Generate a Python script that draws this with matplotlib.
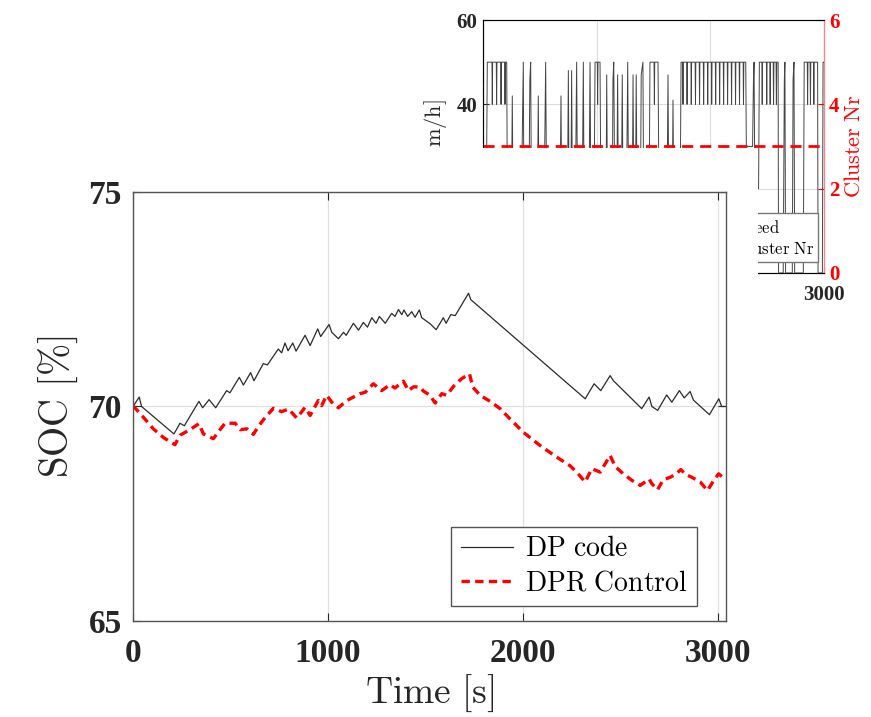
import numpy as np
import matplotlib
matplotlib.use("Agg")
import matplotlib.pyplot as plt
from matplotlib.patches import Rectangle

plt.rcParams['font.family'] = ['Liberation Serif', 'DejaVu Serif']
plt.rcParams['font.weight'] = 'bold'
plt.rcParams['mathtext.fontset'] = 'cm'

# --- main plot data: SOC over time ---
dp_t = [0, 32, 44, 210, 241, 263, 338, 357, 390, 424, 480, 497, 545, 566, 603, 620,
        668, 689, 745, 762, 779, 795, 819, 836, 882, 908, 947, 962, 1005, 1019, 1053,
        1079, 1093, 1130, 1156, 1181, 1202, 1224, 1246, 1263, 1293, 1326, 1343, 1361,
        1378, 1389, 1408, 1429, 1446, 1468, 1480, 1523, 1554, 1591, 1605, 1629, 1652,
        1720, 1732, 2318, 2364, 2398, 2446, 2463, 2608, 2646, 2660, 2690, 2736, 2762,
        2801, 2826, 2856, 2873, 2955, 3003, 3018, 3040]
dp_soc = [70.0, 70.22, 70.0, 69.36, 69.61, 69.55, 70.12, 69.97, 70.16, 69.97, 70.37,
          70.32, 70.68, 70.5, 70.79, 70.6, 71.0, 70.97, 71.34, 71.25, 71.48, 71.3,
          71.48, 71.29, 71.66, 71.42, 71.81, 71.63, 71.91, 71.73, 71.58, 71.73, 71.66,
          71.94, 71.78, 71.96, 71.85, 72.07, 71.94, 72.1, 71.94, 72.17, 72.1, 72.26,
          72.14, 72.25, 72.1, 72.21, 72.08, 72.25, 72.07, 71.93, 71.79, 72.07, 71.94,
          72.14, 72.12, 72.64, 72.49, 70.18, 70.53, 70.37, 70.72, 70.6, 69.95, 70.22,
          70.0, 69.91, 70.27, 70.1, 70.37, 70.2, 70.35, 70.15, 69.81, 70.18, 70.0, 70.0]

dpr_t = [0, 53, 104, 155, 215, 241, 292, 338, 361, 412, 446, 472, 524, 549, 584, 617,
         643, 677, 720, 762, 797, 840, 882, 908, 950, 967, 993, 1019, 1053, 1096, 1130,
         1164, 1190, 1232, 1275, 1318, 1343, 1386, 1412, 1438, 1472, 1489, 1523, 1549,
         1583, 1608, 1643, 1685, 1725, 1742, 1780, 1831, 1882, 1933, 2001, 2087, 2172,
         2240, 2275, 2318, 2352, 2395, 2446, 2472, 2514, 2557, 2600, 2646, 2660, 2689,
         2718, 2754, 2785, 2808, 2836, 2865, 2908, 2945, 2976, 3002, 3040]
dpr_soc = [70.02, 69.75, 69.48, 69.28, 69.11, 69.33, 69.46, 69.6, 69.36, 69.25, 69.46,
           69.61, 69.61, 69.46, 69.48, 69.35, 69.54, 69.74, 69.96, 69.88, 69.94, 69.73,
           69.98, 69.79, 70.14, 70.02, 70.26, 70.1, 69.97, 70.14, 70.22, 70.3, 70.33,
           70.53, 70.37, 70.51, 70.43, 70.59, 70.37, 70.46, 70.45, 70.36, 70.26, 70.08,
           70.3, 70.26, 70.47, 70.65, 70.76, 70.45, 70.26, 70.12, 69.95, 69.71, 69.4,
           69.09, 68.82, 68.62, 68.47, 68.24, 68.55, 68.47, 68.86, 68.6, 68.43, 68.28,
           68.16, 68.31, 68.2, 68.06, 68.29, 68.35, 68.43, 68.53, 68.41, 68.35, 68.24,
           68.04, 68.27, 68.43, 68.29]

# --- background plot data: speed and cluster number ---
speed_t = [0, 30, 38, 209, 214, 252, 258, 264, 340, 355, 360, 405, 413, 420, 426, 480,
           487, 493, 540, 552, 560, 680, 687, 693, 745, 752, 758, 775, 781, 787, 815,
           825, 832, 875, 884, 890, 935, 943, 950, 980, 987, 1031, 1038, 1085, 1090,
           1096, 1140, 1145, 1152, 1160, 1180, 1186, 1192, 1220, 1227, 1233, 1265, 1275,
           1282, 1316, 1322, 1328, 1344, 1350, 1356, 1388, 1394, 1409, 1415, 1465, 1471,
           1542, 1550, 1622, 1630, 1636, 1668, 1674, 1680, 1738, 1745, 2315, 2320, 2375,
           2383, 2388, 2395, 2428, 2435, 2600, 2604, 2645, 2655, 2660, 2666, 2725, 2732,
           2740, 2746, 2822, 2830, 2948, 2952, 2990, 2996, 3000]
speed_v = [20, 20, 50, 50, 20, 20, 42, 20, 20, 50, 20, 20, 46, 50, 20, 20,
           42, 20, 20, 50, 20, 20, 42, 20, 20, 48, 20, 20, 48, 20, 20,
           50, 20, 20, 50, 20, 20, 50, 20, 20, 50, 50, 20, 20, 47,
           20, 20, 46, 50, 20, 20, 47, 20, 20, 47, 20, 20, 50,
           20, 20, 47, 20, 20, 47, 20, 20, 47, 50, 20, 20, 50,
           50, 20, 20, 47, 20, 20, 41, 20, 20, 50, 50, 30, 30,
           46, 50, 20, 20, 50, 50, 0, 0, 46, 50, 0, 0, 46,
           50, 0, 0, 50, 50, 0, 0, 50, 50]
dip_t = [82, 120, 159, 194, 1010, 1510, 1762, 1798, 1835, 1872, 1908, 1944, 1980,
         2015, 2050, 2085, 2120, 2155, 2190, 2225, 2260, 2295, 2460, 2500, 2530,
         2560, 2585, 2860, 2885, 2915]
cluster_t = [0, 3000]
cluster_v = [3, 3]

pts = list(zip(speed_t, speed_v)) + [(d + s, v) for d in dip_t
                                      for s, v in ((-3, 50), (0, 40), (3, 50))]
pts.sort()
sp_t = [p[0] for p in pts]
sp_v = [p[1] for p in pts]

W, H = 871, 717
fig = plt.figure(figsize=(W / 100, H / 100), dpi=100)

def px_axes(l, t, r, b):
    return [l / W, 1 - b / H, (r - l) / W, (b - t) / H]

dark = '#262626'

# background (partially hidden) figure
axb = fig.add_axes(px_axes(483, 20, 823.5, 273))
axb.plot(sp_t, sp_v, color='#444444', lw=0.7, label=r'$\mathrm{Speed}$')
axb.set_xlim(0, 3000)
axb.set_ylim(0, 60)
axb.set_yticks([0, 20, 40, 60])
axb.set_xticks([0, 1000, 2000, 3000])
axb.grid(True, color='#dddddd', lw=0.8)
axb.tick_params(direction='in', labelsize=15, colors=dark, length=4, pad=4)
axb.tick_params(axis='x', pad=9)
axb.set_ylabel(r'$\mathrm{Speed\ [km/h]}$', fontsize=16, color=dark)
axb.yaxis.set_label_coords(-0.1, 0.43)
for s in axb.spines.values():
    s.set_color('#555555')
axr = axb.twinx()
axr.plot(cluster_t, cluster_v, color='red', lw=2, ls=(0, (4, 2.5)),
         label=r'$\mathrm{Cluster\ Nr}$')
axr.set_ylim(0, 6)
axr.set_yticks([0, 2, 4, 6])
axr.tick_params(direction='in', labelsize=15, colors='red', length=4, pad=4)
axr.spines['right'].set_color('#ff8080')
axr.set_ylabel(r'$\mathrm{Cluster\ Nr}$', fontsize=16, color='red', labelpad=4)
h1, l1 = axb.get_legend_handles_labels()
h2, l2 = axr.get_legend_handles_labels()
lgb = axr.legend(h1 + h2, l1 + l2, loc='lower right', bbox_to_anchor=(0.984, 0.043),
                 borderaxespad=0, fontsize=12, fancybox=False, framealpha=1,
                 edgecolor='#777777', handlelength=2.5, borderpad=0.25, labelspacing=0.2)

# white sheet of the overlaid figure
fig.patches.append(Rectangle((0, 0), 758 / W, 1 - 148 / H, transform=fig.transFigure,
                             facecolor='white', edgecolor='none', zorder=5))

# main SOC plot
ax = fig.add_axes(px_axes(133, 192, 726, 621))
ax.set_zorder(10)
ax.plot(dp_t, dp_soc, color='#2a2a2a', lw=0.9, label=r'$\mathrm{DP\ code}$')
ax.plot(dpr_t, dpr_soc, color='red', lw=2.4, ls=(0, (2.5, 1.6)),
        label=r'$\mathrm{DPR\ Control}$')
ax.set_xlim(0, 3040)
ax.set_ylim(65, 75)
ax.set_xticks([0, 1000, 2000, 3000])
ax.set_yticks([65, 70, 75])
ax.grid(True, color='#e0e0e0', lw=0.9)
ax.tick_params(direction='in', labelsize=24, colors=dark, length=6,
               top=True, right=True)
ax.tick_params(axis='x', pad=12)
ax.tick_params(axis='y', pad=8)
for s in ax.spines.values():
    s.set_color('#555555')
    s.set_linewidth(1.0)
ax.set_xlabel(r'$\mathrm{Time\ [s]}$', fontsize=27, color=dark, labelpad=3)
ax.set_ylabel(r'$\mathrm{SOC\ [\%]}$', fontsize=28, color=dark, labelpad=6)
ax.legend(loc='lower right', bbox_to_anchor=(0.951, 0.035), borderaxespad=0,
          fontsize=20, fancybox=False, framealpha=1, edgecolor='#555555',
          handlelength=1.9, borderpad=0.35, labelspacing=0.3, handletextpad=0.4)

fig.savefig('out.png', dpi=100)
